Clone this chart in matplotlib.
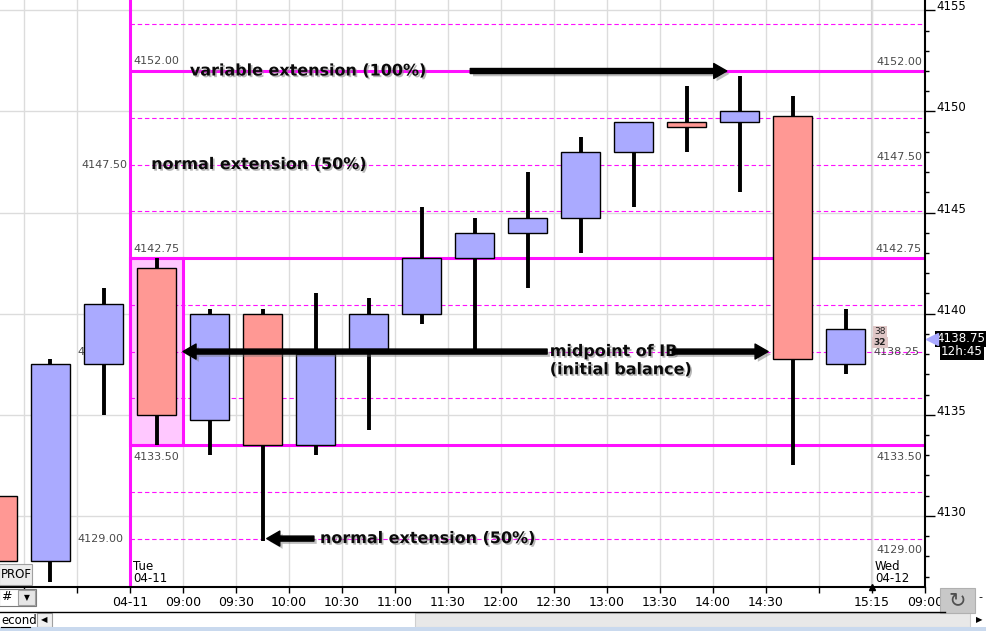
import matplotlib
matplotlib.use("Agg")
import matplotlib.pyplot as plt
import matplotlib.patheffects as pe
from matplotlib.patches import Rectangle, FancyArrowPatch
from matplotlib.ticker import MultipleLocator
import numpy as np

W, H = 986, 631

## 30 minute bars, slot 0 = first bar of the 04-11 session
slots  = [-3, -2, -1, 0, 1, 2, 3, 4, 5, 6, 7, 8, 9, 10, 11, 12, 13]
opens  = [4131.00, 4127.75, 4137.50, 4142.25, 4134.75, 4140.00, 4133.50, 4138.25, 4140.00,
          4142.75, 4144.00, 4144.75, 4148.00, 4149.50, 4149.50, 4149.75, 4137.50]
highs  = [4131.25, 4137.75, 4141.25, 4142.75, 4140.25, 4140.25, 4141.00, 4140.75, 4145.25,
          4144.75, 4147.00, 4148.75, 4149.50, 4151.25, 4151.75, 4150.75, 4140.25]
lows   = [4127.50, 4126.75, 4135.00, 4133.50, 4133.00, 4128.75, 4133.00, 4134.25, 4139.50,
          4138.00, 4141.25, 4143.00, 4145.25, 4148.00, 4146.00, 4132.50, 4137.00]
closes = [4127.75, 4137.50, 4140.50, 4135.00, 4140.00, 4133.50, 4138.00, 4140.00, 4142.75,
          4144.00, 4144.75, 4148.00, 4149.50, 4149.25, 4150.00, 4137.75, 4139.25]

tick_pos = list(range(-2, 16))
tick_labels = ["", "", "04-11", "09:00", "09:30", "10:00", "10:30", "11:00", "11:30", "12:00",
               "12:30", "13:00", "13:30", "14:00", "14:30", "", "15:15", "09:00"]

# initial balance = first bar of the day
ib_high = 4142.75
ib_low = 4133.50
last_price = 4138.75
level_steps = list(range(-2, 10))     # quarter IB steps
level_text = {8: "4152.00", 6: "4147.50", 4: "4142.75", 2: "4138.25", 0: "4133.50", -2: "4129.00"}

MAGENTA = "#ff10ff"
BLUE = "#aaaaff"
RED = "#ff9894"

fig = plt.figure(figsize=(W / 100, H / 100), dpi=100)
ax = fig.add_axes([0, 1 - 587 / H, 925 / W, 587 / H])
ax.set_xlim(-130 / 53, 15)
ax.set_ylim(4152 - 516 / 20.22, 4152 + 71 / 20.22)

# axes look
for s in ["top", "left"]:
    ax.spines[s].set_visible(False)
ax.spines["right"].set_linewidth(1.5)
ax.spines["bottom"].set_linewidth(1.5)
ax.yaxis.tick_right()
ax.set_yticks(np.arange(4130, 4156, 5))
ax.yaxis.set_minor_locator(MultipleLocator(1))
ax.tick_params(axis="y", which="major", direction="out", length=7.2, width=1, labelsize=8.5, pad=0.8)
ax.tick_params(axis="y", which="minor", direction="out", length=2.9, width=1)
for lbl in ax.get_yticklabels():
    lbl.set_verticalalignment("baseline")
ax.set_xticks(tick_pos, tick_labels)
ax.tick_params(axis="x", direction="out", length=4.3, width=1, labelsize=9, pad=2)
ax.grid(True, which="major", color="#dcdcdc", lw=1)
ax.set_axisbelow(True)
ax.axvline(14, color="#d2d2d2", lw=1.6, zorder=0.5)

# IB levels
ib_step = (ib_high - ib_low) / 4
levels = {k: ib_low + k * ib_step for k in level_steps}
ib_mid = levels[2]
for k, lev in levels.items():
    if k in (0, 4, 8):
        ax.hlines(lev, 0, 15, color=MAGENTA, lw=2.2, zorder=2)
    else:
        ax.hlines(lev, 0, 15, color=MAGENTA, lw=0.8, linestyle=(0, (4, 2.5)), zorder=2)
ax.axvline(0, color=MAGENTA, lw=2.2, zorder=2)
ax.add_patch(Rectangle((0, ib_low), 1, ib_high - ib_low, facecolor="#ffc8ff",
                       edgecolor=MAGENTA, lw=2.2, zorder=1.5))

# level price labels
lab_col = "#4a4a4a"
left_pos = {8: ("left", 3, 10), 6: ("right", -3, 0), 4: ("left", 3, 9),
            2: ("right", -7, 0), 0: ("left", 3, -12), -2: ("right", -7, 0)}
right_dy = {8: 9, 6: 8, 4: 9, 2: 0, 0: -12, -2: -11}
for k, txt in level_text.items():
    ha, dx, dy = left_pos[k]
    ax.annotate(txt, xy=(0, levels[k]), xytext=(dx, dy), textcoords="offset pixels",
                ha=ha, va="center", fontsize=8, color=lab_col, zorder=2.5)
    ax.annotate(txt, xy=(1, levels[k]), xycoords=("axes fraction", "data"),
                xytext=(-3 if k != 2 else -6, right_dy[k]), textcoords="offset pixels",
                ha="right", va="center", fontsize=8, color=lab_col, zorder=2.5)

# candles
x = np.array(slots) + 0.5
o = np.array(opens); c = np.array(closes)
cols = [BLUE if cc >= oo else RED for oo, cc in zip(o, c)]
ax.vlines(x, lows, highs, color="black", lw=2.8, zorder=3)
ax.bar(x, np.abs(c - o), bottom=np.minimum(o, c), width=0.72, color=cols,
       edgecolor="black", lw=1.0, zorder=4)

# annotations
shadow_txt = [pe.withSimplePatchShadow(offset=(1.2, -1.2), shadow_rgbFace="#8a8a8a", alpha=0.6)]
shadow_arr = [pe.SimplePatchShadow(offset=(2, -2), shadow_rgbFace="#707070", alpha=0.45), pe.Normal()]
def note(xx, yy, s):
    ax.text(xx, yy, s, fontsize=11.5, fontweight="bold", color="#0a0a0a", ha="left",
            va="center", path_effects=shadow_txt, zorder=6)
def arrow(x0, x1, yy):
    ax.add_patch(FancyArrowPatch((x0, yy), (x1, yy), mutation_scale=1, shrinkA=0, shrinkB=0,
                                 arrowstyle="simple,head_length=9.4,head_width=10.8,tail_width=3.6",
                                 color="black", path_effects=shadow_arr, zorder=6))

note(1.13, levels[8], "variable extension (100%)")
arrow(6.42, 11.26, levels[8])
note(0.40, levels[6], "normal extension (50%)")
note(7.92, ib_mid, "midpoint of IB")
note(7.92, ib_mid - 0.9, "(initial balance)")
arrow(7.87, 1.0, ib_mid)
arrow(10.23, 12.04, ib_mid)
note(3.585, levels[-2], "normal extension (50%)")
arrow(3.47, 2.58, levels[-2])

# session labels
ax.annotate("Tue\n04-11", xy=(0, 0), xycoords=("data", "axes fraction"), xytext=(3, 2),
            textcoords="offset pixels", ha="left", va="bottom", fontsize=8.5, linespacing=0.95)
ax.annotate("Wed\n04-12", xy=(14, 0), xycoords=("data", "axes fraction"), xytext=(3, 2),
            textcoords="offset pixels", ha="left", va="bottom", fontsize=8.5, linespacing=0.95)
ax.plot([14], [ax.get_ylim()[0]], marker="^", color="black", ms=4, clip_on=False, zorder=7)

# bid / ask boxes + last price tag
ax.text(14.15, last_price + 0.35, "38", fontsize=6.5, ha="center", va="center", color="#222222",
        bbox=dict(boxstyle="square,pad=0.15", fc="#dfc6c6", ec="none"), zorder=5)
ax.text(14.15, last_price - 0.18, "32", fontsize=6.5, fontweight="bold", ha="center", va="center",
        color="#222222", bbox=dict(boxstyle="square,pad=0.15", fc="#dfc6c6", ec="none"), zorder=5)
ax.plot([1.008], [last_price], marker="<", color="#a8a8ff", ms=8, transform=ax.get_yaxis_transform(),
        clip_on=False, zorder=7)
ax.annotate("4138.75", xy=(1, last_price), xycoords=("axes fraction", "data"), xytext=(11, 0),
            textcoords="offset pixels", ha="left", va="center", fontsize=8.6, color="white",
            bbox=dict(boxstyle="square,pad=0.1", fc="black", ec="none"), annotation_clip=False)
ax.annotate("12h:45", xy=(1, last_price), xycoords=("axes fraction", "data"), xytext=(16, -13),
            textcoords="offset pixels", ha="left", va="center", fontsize=8.6, color="white",
            bbox=dict(boxstyle="square,pad=0.1", fc="black", ec="none"), annotation_clip=False)

# window chrome, in pixels
ov = fig.add_axes([0, 0, 1, 1], zorder=5)
ov.set_xlim(0, W); ov.set_ylim(H, 0); ov.axis("off"); ov.patch.set_visible(False)
ov.plot([0, 945], [612, 612], color="black", lw=1)
ov.add_patch(Rectangle((37, 613), 15, 14, fc="#f0f0f0", ec="#a0a0a0", lw=0.8))
ov.text(44.5, 620, "◀", fontsize=6, ha="center", va="center")
ov.add_patch(Rectangle((415, 613), 555, 14, fc="#e8e8e8", ec="#cfcfcf", lw=0.8))
ov.text(979, 620, "▶", fontsize=6, ha="center", va="center")
ov.add_patch(Rectangle((0, 627), W, 4, fc="#c9d9ee", ec="none"))
ov.add_patch(Rectangle((-1, 564), 33, 21, fc="#ececec", ec="#a0a0a0", lw=0.8))
ov.text(1, 575, "PROF", fontsize=8.5, ha="left", va="center")
ov.add_patch(Rectangle((-1, 589), 37, 17, fc="white", ec="#7a7a7a", lw=0.8))
ov.add_patch(Rectangle((18, 590), 17, 15, fc="#e6e6e6", ec="#a0a0a0", lw=0.8))
ov.text(26.5, 598, "▼", fontsize=5.5, ha="center", va="center")
ov.text(1, 597, "#", fontsize=9, ha="left", va="center")
ov.text(1, 620, "econd", fontsize=8.5, ha="left", va="center")
ov.plot([1, 30], [627, 627], color="black", lw=0.8)
ov.add_patch(Rectangle((940, 588), 35, 25, fc="#c8c8c8", ec="#b0b0b0", lw=0.8))
ov.text(957.5, 600, "↻", fontsize=15, ha="center", va="center", color="#505050")
ov.text(980, 597, "-", fontsize=8, ha="center", va="center")

fig.savefig("out.png", dpi=100)
